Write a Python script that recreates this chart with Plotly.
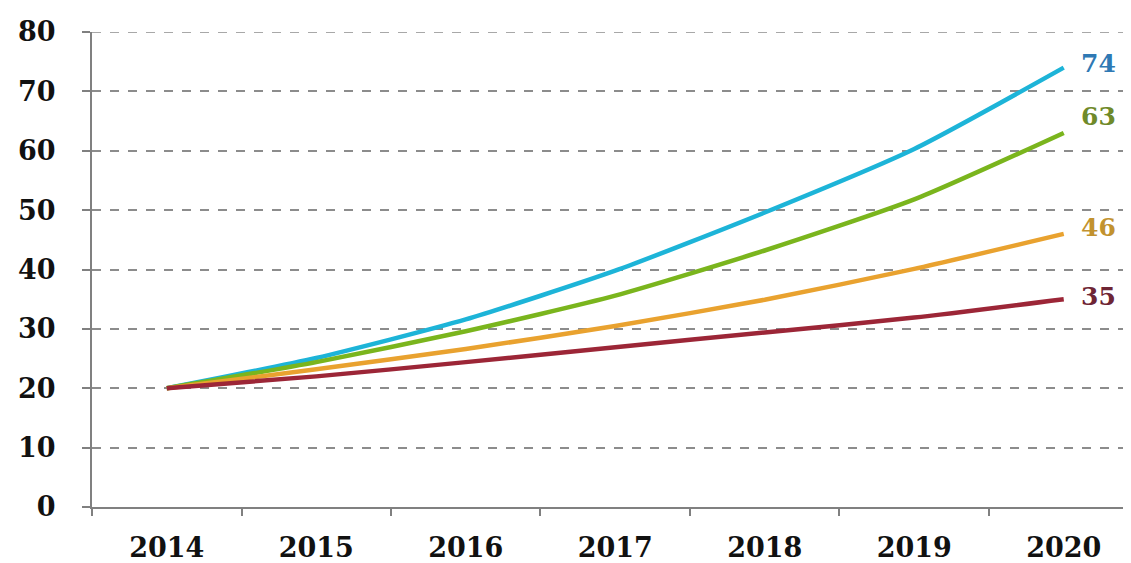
import plotly.graph_objects as go

years = ["2014", "2015", "2016", "2017", "2018", "2019", "2020"]
cyan_vals = [20, 25.1, 31.6, 39.8, 49.6, 60.3, 74]
green_vals = [20, 24.4, 29.6, 35.6, 43.2, 51.8, 63]
orange_vals = [20, 23.2, 26.6, 30.5, 34.9, 40.1, 46]
maroon_vals = [20, 22.0, 24.4, 26.9, 29.4, 31.9, 35]

series = [
    ("Cyan", cyan_vals, "#1db4d8", "#2f79b4"),
    ("Green", green_vals, "#7ab51d", "#6f8a2a"),
    ("Orange", orange_vals, "#e9a22f", "#c2922f"),
    ("Maroon", maroon_vals, "#9c2637", "#6e2535"),
]
label_yshift = [4, 16, 6, 3]

fig = go.Figure()
font_family = "DejaVu Serif"
last_idx = len(years) - 1
for (name, vals, lc, tc), ys in zip(series, label_yshift):
    fig.add_trace(go.Scatter(
        x=years, y=vals, mode="lines", name=name,
        line=dict(color=lc, width=4.5, shape="spline", smoothing=0.6),
        hoverinfo="skip",
    ))
    fig.add_annotation(
        x=last_idx, y=vals[-1], xref="x", yref="y",
        text=str(vals[-1]), showarrow=False,
        xanchor="left", xshift=15, yshift=ys,
        font=dict(family=font_family, size=25, color=tc, weight="bold"),
    )

# dashed grid line along the top value of the axis (plotly drops the edge grid line)
fig.add_shape(
    type="line", xref="paper", x0=0, x1=1, yref="y", y0=80, y1=80,
    line=dict(color="#8c8c8c", width=1.5, dash="dash"), layer="below",
)

# page body has an 8px default margin, so the figure is sized to fit the window
fig.update_layout(
    width=1123, height=555,
    margin=dict(l=84, r=0, t=24, b=56),
    plot_bgcolor="white", paper_bgcolor="white",
    showlegend=False,
    font=dict(family=font_family, size=27, color="#111111"),
)
fig.update_xaxes(
    type="category", range=[-0.5, 6.45], automargin=False,
    tickson="boundaries", ticks="outside", ticklen=7, tickwidth=1.5,
    tickcolor="#808080", showline=True, linecolor="#808080", linewidth=2,
    showgrid=False,
    tickfont=dict(family=font_family, size=27, color="#111111", weight="bold"),
    ticklabelstandoff=16,
)
fig.update_yaxes(
    range=[0, 80], dtick=10, tick0=0, automargin=False,
    showgrid=True, gridcolor="#8c8c8c", griddash="dash", gridwidth=1.5,
    zeroline=False, showline=True, linecolor="#808080", linewidth=2,
    ticks="outside", ticklen=8, tickcolor="#808080", tickwidth=1.5,
    tickfont=dict(family=font_family, size=27, color="#111111", weight="bold"),
    ticklabelstandoff=21,
)

fig.write_html("out.html")
